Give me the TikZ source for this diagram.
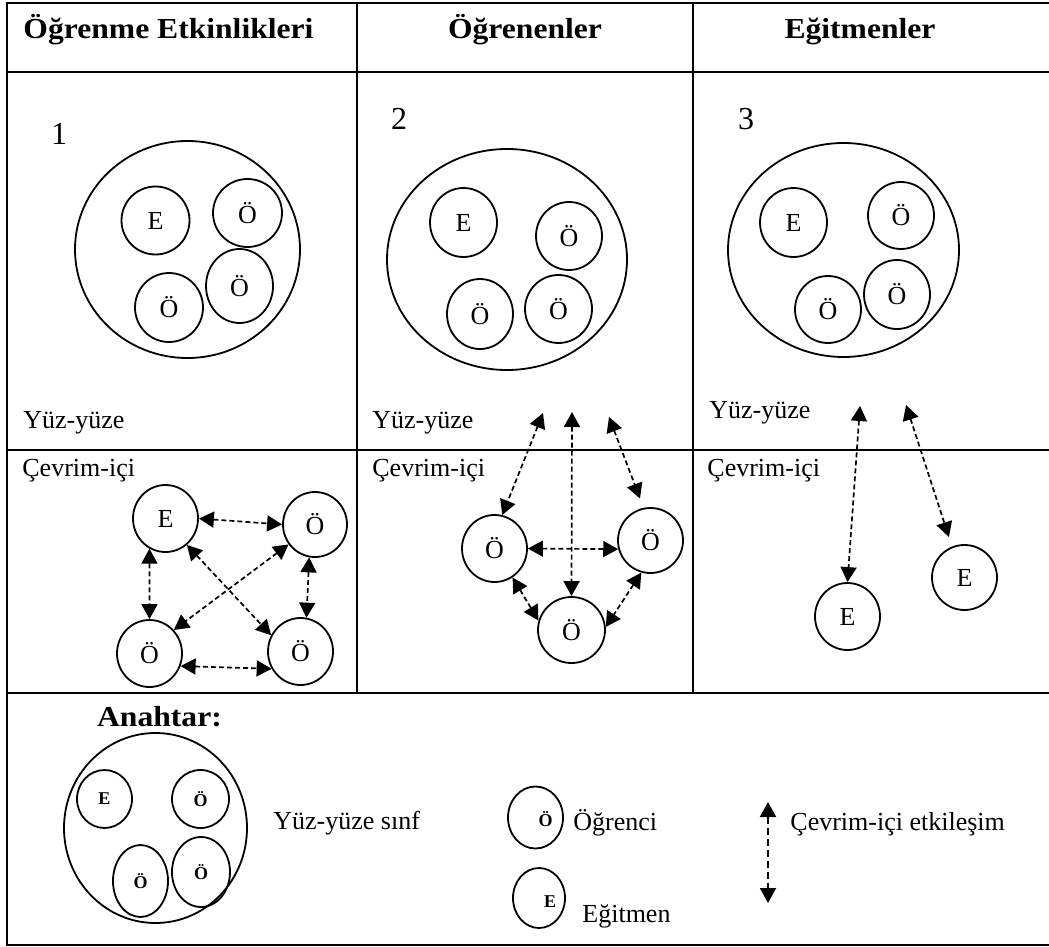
\documentclass[tikz,border=0pt]{standalone}
\usepackage{fontspec}
\setmainfont{Liberation Serif}
\newfontfamily\genis[FakeStretch=1.09]{Liberation Serif}
\usetikzlibrary{arrows.meta,shapes.geometric}

\begin{document}
\begin{tikzpicture}[x=0.5pt,y=-0.5pt]
\tikzset{
  cizgi/.style={line width=1.3pt},
  baslik/.style={font=\genis\fontsize{14.5}{16}\selectfont\bfseries, anchor=base, inner sep=0pt},
  yazi/.style={font=\fontsize{13}{15}\selectfont, anchor=base west, inner sep=0pt},
  numara/.style={font=\fontsize{16}{18}\selectfont, anchor=base, inner sep=0pt},
  boyut/.style 2 args={minimum width={#1*0.5pt}, minimum height={#2*0.5pt}},
  halka/.style={ellipse, draw, line width=0.9pt, inner sep=0pt},
  kisi/.style={halka, font=\fontsize{13}{15}\selectfont},
  anahtar/.style={halka, font=\fontsize{9}{10}\selectfont\bfseries},
  etkilesim/.style={{Triangle[length=7.5pt,width=8pt]}-{Triangle[length=7.5pt,width=8pt]},
    dash pattern=on 2.5pt off 1.5pt, line width=0.85pt}
}
\useasboundingbox (0,0) rectangle (1049,947);

\draw[cizgi] (1049,3) -- (7,3) -- (7,945) -- (1049,945);
\draw[cizgi] (7,72) -- (1049,72) (7,450) -- (1049,450) (7,693) -- (1049,693);
\draw[cizgi] (357,3) -- (357,693) (693,3) -- (693,693);

\node[baslik] (b1) at (168.5,39) {Öğrenme Etkinlikleri};
\node[baslik] (b2) at (525,39) {Öğrenenler};
\node[baslik] (b3) at (860,39) {Eğitmenler};

\node[numara] (n1) at (59,145) {1};
\node[numara] (n2) at (399,130) {2};
\node[numara] (n3) at (746,130) {3};

\node[yazi] (y1) at (23,428) {Yüz-yüze};
\node[yazi] (y2) at (372,428) {Yüz-yüze};
\node[yazi] (y3) at (709,418) {Yüz-yüze};
\node[yazi] (c1) at (22,476) {Çevrim-içi};
\node[yazi] (c2) at (372,476) {Çevrim-içi};
\node[yazi] (c3) at (707,476) {Çevrim-içi};

\node[halka, boyut={225}{217}] (s1) at (187.5,249.5) {};
\node[kisi, boyut={68}{68}] (e1) at (155.5,220.5) {E};
\node[kisi, boyut={69}{68}] (o1a) at (247.5,213) {Ö};
\node[kisi, boyut={67}{74}] (o1b) at (239.5,286) {Ö};
\node[kisi, boyut={68}{69}] (o1c) at (169,307.5) {Ö};

\node[halka, boyut={240}{221}] (s2) at (507,259.5) {};
\node[kisi, boyut={67}{69}] (e2) at (463.5,222.5) {E};
\node[kisi, boyut={66}{68}] (o2a) at (569,236) {Ö};
\node[kisi, boyut={66}{70}] (o2b) at (480,314) {Ö};
\node[kisi, boyut={67}{68}] (o2c) at (558.5,309) {Ö};

\node[halka, boyut={231}{214}] (s3) at (843.5,250) {};
\node[kisi, boyut={67}{69}] (e3) at (793.5,222.5) {E};
\node[kisi, boyut={66}{67}] (o3a) at (901,215.5) {Ö};
\node[kisi, boyut={66}{69}] (o3b) at (897,294.5) {Ö};
\node[kisi, boyut={66}{67}] (o3c) at (828,309.5) {Ö};

\node[kisi, boyut={65}{67}] (e4) at (165.5,518.5) {E};
\node[kisi, boyut={64}{65}] (o4a) at (315,524.5) {Ö};
\node[kisi, boyut={65}{67}] (o4b) at (149.5,653.5) {Ö};
\node[kisi, boyut={65}{67}] (o4c) at (300.5,651.5) {Ö};
\draw[etkilesim] (e4.east) -- (o4a.west);
\draw[etkilesim] (e4.-118) -- (o4b.north);
\draw[etkilesim] (e4.-51) -- (o4c.151);
\draw[etkilesim] (o4a.-143) -- (o4b.44);
\draw[etkilesim] (o4a.-100) -- (o4c.80);
\draw[etkilesim] (o4b.-22) -- (o4c.-149);

\node[kisi, boyut={65}{67}] (o5a) at (494.5,548.5) {Ö};
\node[kisi, boyut={65}{65}] (o5b) at (650.5,540.5) {Ö};
\node[kisi, boyut={67}{66}] (o5c) at (571.5,630) {Ö};
\coordinate (t1) at (543,413);
\coordinate (t2) at (572,412);
\coordinate (t3) at (609,417);
\draw[etkilesim] (t1) -- (o5a.77);
\draw[etkilesim] (t2) -- (o5c.north);
\draw[etkilesim, shorten >=5pt] (t3) -- (o5b.102);
\draw[etkilesim] (o5a.east) -- (o5b.-165);
\draw[etkilesim] (o5a.-58) -- (o5c.164);
\draw[etkilesim] (o5b.-106) -- (o5c.5);

\node[kisi, boyut={65}{67}] (e6) at (847.5,616.5) {E};
\node[kisi, boyut={65}{65}] (e7) at (964.5,577.5) {E};
\coordinate (t4) at (860,406);
\coordinate (t5) at (906,405);
\draw[etkilesim] (t4) -- (e6.north);
\draw[etkilesim, shorten >=5pt] (t5) -- (e7.112);

\node[baslik] (anahtar) at (159.5,726) {Anahtar:};
\node[halka, boyut={183}{190}] (lsinif) at (155.5,828) {};
\node[anahtar, boyut={55}{58}] (lke) at (104.5,799) {E};
\node[anahtar, boyut={57}{58}] (lko1) at (200.5,799) {Ö};
\node[anahtar, boyut={55}{72}] (lko2) at (140.5,881) {Ö};
\node[anahtar, boyut={58}{70}] (lko3) at (201,872) {Ö};
\node[yazi] (tsinif) at (273,829) {Yüz-yüze sınf};

\node[anahtar, boyut={55}{62}, label={[font=\fontsize{9}{10}\selectfont\bfseries, xshift=5pt, yshift=-1pt]center:Ö}] (logr) at (535.5,817.5) {};
\node[yazi] (togr) at (573,830) {Öğrenci};
\node[anahtar, boyut={52}{60}, label={[font=\fontsize{9}{10}\selectfont\bfseries, xshift=5.5pt, yshift=-2pt]center:E}] (legt) at (539,898) {};
\node[yazi] (tegt) at (582,922) {Eğitmen};

\coordinate (a1) at (768,802);
\coordinate (a2) at (768,903);
\draw[etkilesim, dash pattern=on 3.5pt off 2pt, line width=1pt] (a1) -- (a2);
\node[yazi] (tetk) at (790,830) {Çevrim-içi etkileşim};
\end{tikzpicture}
\end{document}
